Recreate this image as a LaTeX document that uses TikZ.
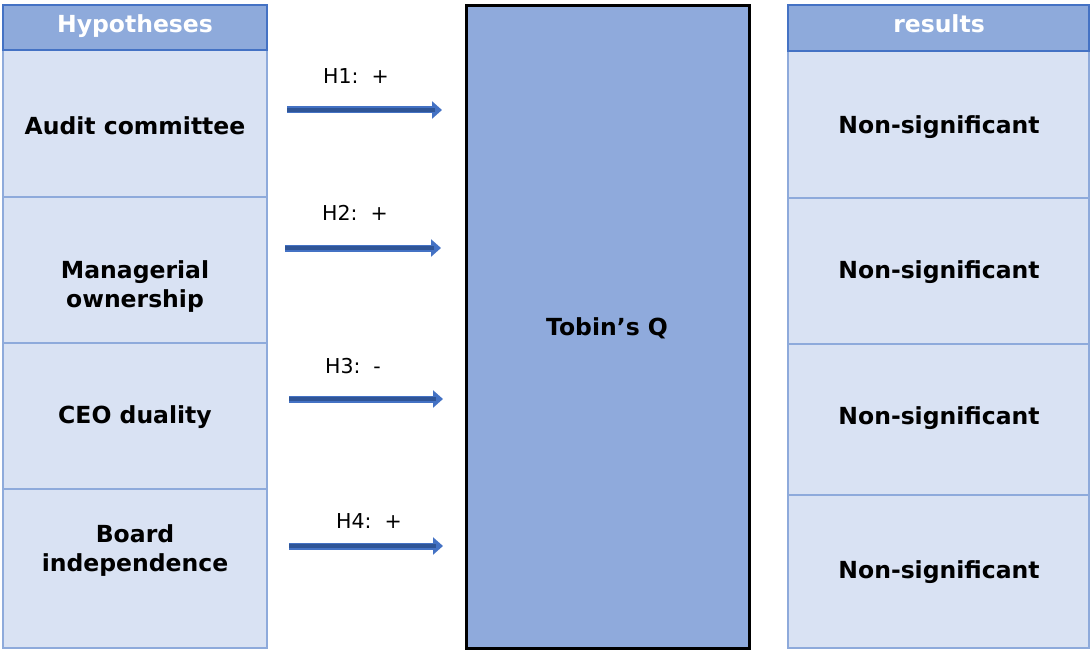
\documentclass[tikz,border=0pt]{standalone}
\usepackage{fontspec}
\setmainfont{DejaVu Sans}
\usetikzlibrary{arrows.meta}
\definecolor{hdrfill}{RGB}{142,170,219}
\definecolor{hdrline}{RGB}{68,114,196}
\definecolor{cellfill}{RGB}{217,226,243}
\definecolor{cellline}{RGB}{142,170,219}
\definecolor{midfill}{RGB}{143,170,220}
\definecolor{arrowcol}{RGB}{47,85,151}
\definecolor{arrowedge}{RGB}{68,114,196}
\tikzset{
  hdr/.style={draw=hdrline, fill=hdrfill, line width=2pt, text=white, font=\fontsize{23.5}{28}\selectfont\bfseries},
  cell/.style={draw=cellline, fill=cellfill, line width=1.5pt, align=center, font=\fontsize{23.5}{29}\selectfont\bfseries},
  hlab/.style={font=\fontsize{20.5}{24}\selectfont},
  harrow/.style={draw=arrowedge, line width=7pt, -{Triangle[length=10pt,width=17pt]}},
  hcore/.style={draw=arrowcol, line width=4pt, shorten >=7pt}
}
\begin{document}
\begin{tikzpicture}[x=1pt,y=-1pt]
\useasboundingbox (0,0) rectangle (1091,650);
% left column
\draw[cell] (3,50) rectangle (267,197);
\draw[cell] (3,197) rectangle (267,343);
\draw[cell] (3,343) rectangle (267,489);
\draw[cell] (3,489) rectangle (267,648);
\draw[hdr] (3,5) rectangle (267,50);
\node[hdr, draw=none, fill=none, anchor=base] (hyp) at (135,33) {Hypotheses};
\node[cell, draw=none, fill=none] (a) at (135,126) {Audit committee};
\node[cell, draw=none, fill=none] (m) at (135,287) {Managerial\\ownership};
\node[cell, draw=none, fill=none] (c) at (135,417) {CEO duality};
\node[cell, draw=none, fill=none] (b) at (135,551) {Board\\independence};
% right column
\draw[cell] (788,51) rectangle (1089,198);
\draw[cell] (788,198) rectangle (1089,344);
\draw[cell] (788,344) rectangle (1089,495);
\draw[cell] (788,495) rectangle (1089,648);
\draw[hdr] (788,5) rectangle (1089,51);
\node[hdr, draw=none, fill=none, anchor=base] (res) at (939,33) {results};
\node[cell, draw=none, fill=none] (r1) at (939,127) {Non-significant};
\node[cell, draw=none, fill=none] (r2) at (939,272) {Non-significant};
\node[cell, draw=none, fill=none] (r3) at (939,418) {Non-significant};
\node[cell, draw=none, fill=none] (r4) at (939,572) {Non-significant};
% center
\draw[draw=black, fill=midfill, line width=3pt] (466,6) rectangle (749,648);
\node[font=\fontsize{23.5}{28}\selectfont\bfseries] (t) at (607,328) {Tobin’s Q};
% arrows
\coordinate (s1) at (287,110); \coordinate (e1) at (442,110);
\coordinate (s2) at (285,248); \coordinate (e2) at (441,248);
\coordinate (s3) at (289,399); \coordinate (e3) at (443,399);
\coordinate (s4) at (289,546); \coordinate (e4) at (443,546);
\foreach \i in {1,2,3,4}{
  \draw[harrow] (s\i) -- (e\i);
  \draw[hcore] (s\i) -- (e\i);
}
\node[hlab] (h1) at (356,76) {H1:~~+};
\node[hlab] (h2) at (355,213) {H2:~~+};
\node[hlab] (h3) at (353,366) {H3:~~-};
\node[hlab] (h4) at (369,521) {H4:~~+};
\end{tikzpicture}
\end{document}
